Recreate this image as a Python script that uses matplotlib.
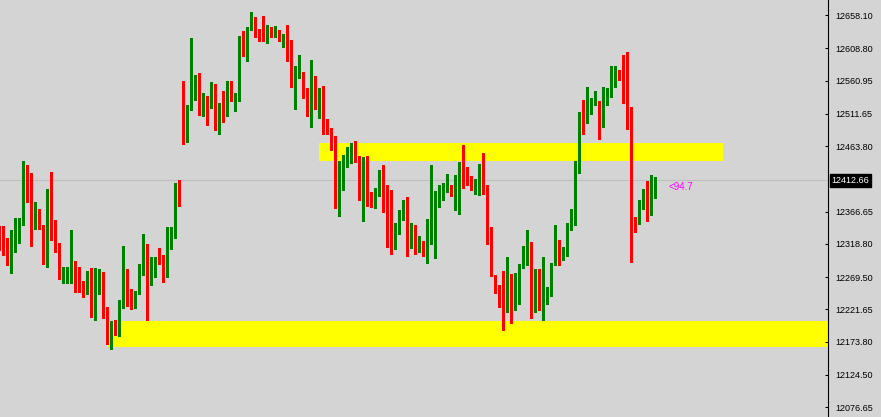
import numpy as np
import matplotlib
matplotlib.use("Agg")
import matplotlib.pyplot as plt
from matplotlib.patches import Rectangle

# OHLC свечи, слева направо (первая обрезана краем)
opens = [12339, 12323, 12320, 12298, 12308, 12328, 12357, 12430, 12400, 12340,
         12364, 12346, 12290, 12387, 12336, 12315, 12267, 12267, 12280, 12291,
         12282, 12259, 12249, 12277, 12218, 12260, 12268, 12218, 12181, 12197,
         12185, 12228, 12262, 12252, 12224, 12244, 12282, 12313, 12273, 12283,
         12299, 12295, 12274, 12333, 12336, 12407, 12522, 12473, 12517, 12548,
         12565, 12513, 12538, 12531, 12553, 12504, 12519, 12513, 12554, 12531,
         12537, 12618, 12604, 12637, 12651, 12630, 12630, 12623, 12631, 12628,
         12630, 12626, 12627, 12594, 12563, 12574, 12568, 12542, 12519, 12545,
         12518, 12544, 12498, 12488, 12473, 12381, 12415, 12443, 12450, 12465,
         12443, 12389, 12433, 12384, 12375, 12395, 12422, 12376, 12366, 12340,
         12335, 12368, 12371, 12320, 12337, 12319, 12316, 12314, 12347, 12362,
         12380, 12385, 12403, 12404, 12397, 12399, 12423, 12422, 12412, 12402,
         12409, 12421, 12406, 12340, 12273, 12250, 12235, 12218, 12255, 12221,
         12264, 12285, 12310, 12321, 12243, 12280, 12207, 12236, 12242, 12287,
         12322, 12299, 12302, 12343, 12362, 12439, 12510, 12504, 12522, 12525,
         12531, 12496, 12529, 12541, 12553, 12575, 12574, 12534, 12522, 12358,
         12351, 12384, 12397, 12382, 12390]
highs = [12345, 12345, 12327, 12339, 12357, 12357, 12441, 12436, 12424, 12381,
         12371, 12347, 12400, 12425, 12354, 12320, 12284, 12284, 12339, 12293,
         12285, 12263, 12278, 12283, 12283, 12281, 12277, 12225, 12204, 12206,
         12235, 12315, 12281, 12252, 12249, 12289, 12333, 12318, 12299, 12299,
         12313, 12302, 12344, 12344, 12409, 12413, 12560, 12525, 12624, 12569,
         12572, 12542, 12538, 12559, 12556, 12528, 12545, 12560, 12560, 12542,
         12627, 12634, 12640, 12663, 12655, 12637, 12657, 12643, 12640, 12642,
         12636, 12630, 12643, 12621, 12582, 12599, 12574, 12550, 12591, 12568,
         12550, 12553, 12504, 12491, 12479, 12442, 12450, 12462, 12468, 12471,
         12449, 12447, 12449, 12396, 12402, 12428, 12436, 12406, 12399, 12350,
         12369, 12384, 12388, 12350, 12346, 12331, 12323, 12356, 12436, 12397,
         12406, 12409, 12422, 12406, 12421, 12440, 12465, 12433, 12419, 12415,
         12437, 12453, 12406, 12343, 12273, 12258, 12278, 12299, 12274, 12276,
         12289, 12315, 12339, 12321, 12281, 12281, 12299, 12255, 12291, 12347,
         12324, 12314, 12350, 12370, 12442, 12514, 12532, 12551, 12535, 12545,
         12531, 12551, 12550, 12582, 12582, 12577, 12599, 12603, 12522, 12358,
         12384, 12400, 12412, 12421, 12418]
lows = [12310, 12302, 12287, 12276, 12307, 12320, 12347, 12381, 12316, 12340,
        12340, 12289, 12285, 12325, 12307, 12267, 12260, 12260, 12260, 12248,
        12247, 12240, 12244, 12210, 12205, 12245, 12208, 12170, 12163, 12183,
        12182, 12224, 12226, 12222, 12224, 12244, 12273, 12205, 12258, 12270,
        12289, 12262, 12270, 12311, 12327, 12375, 12467, 12470, 12517, 12532,
        12510, 12508, 12495, 12520, 12488, 12481, 12500, 12509, 12531, 12515,
        12531, 12598, 12590, 12636, 12626, 12619, 12620, 12616, 12626, 12626,
        12620, 12611, 12590, 12552, 12519, 12565, 12535, 12509, 12492, 12518,
        12506, 12482, 12482, 12458, 12372, 12360, 12399, 12433, 12439, 12440,
        12383, 12353, 12375, 12374, 12372, 12390, 12366, 12314, 12304, 12311,
        12334, 12354, 12301, 12313, 12303, 12307, 12300, 12290, 12319, 12297,
        12374, 12384, 12396, 12390, 12369, 12363, 12402, 12406, 12399, 12393,
        12391, 12393, 12319, 12271, 12246, 12225, 12191, 12218, 12202, 12220,
        12230, 12283, 12288, 12208, 12218, 12220, 12206, 12230, 12241, 12287,
        12287, 12294, 12300, 12339, 12347, 12424, 12481, 12498, 12511, 12524,
        12474, 12492, 12525, 12536, 12551, 12562, 12528, 12489, 12292, 12336,
        12348, 12370, 12353, 12361, 12387]
closes = [12321, 12318, 12300, 12312, 12327, 12357, 12430, 12399, 12339, 12366,
          12346, 12292, 12387, 12334, 12314, 12270, 12270, 12281, 12289, 12282,
          12258, 12247, 12277, 12218, 12261, 12268, 12218, 12183, 12198, 12183,
          12229, 12262, 12250, 12225, 12247, 12283, 12313, 12272, 12283, 12296,
          12295, 12274, 12333, 12340, 12408, 12400, 12473, 12520, 12550, 12565,
          12513, 12536, 12532, 12551, 12504, 12520, 12513, 12556, 12532, 12538,
          12618, 12604, 12638, 12657, 12630, 12628, 12623, 12631, 12628, 12637,
          12626, 12627, 12593, 12562, 12575, 12578, 12543, 12519, 12545, 12518,
          12547, 12498, 12488, 12472, 12381, 12416, 12445, 12452, 12467, 12443,
          12389, 12433, 12381, 12378, 12396, 12421, 12375, 12365, 12340, 12343,
          12369, 12372, 12320, 12337, 12319, 12326, 12313, 12349, 12361, 12381,
          12387, 12406, 12406, 12397, 12400, 12422, 12421, 12412, 12400, 12410,
          12421, 12403, 12340, 12274, 12249, 12232, 12218, 12256, 12221, 12264,
          12284, 12311, 12323, 12243, 12280, 12238, 12280, 12243, 12291, 12322,
          12299, 12308, 12344, 12362, 12439, 12511, 12504, 12523, 12526, 12529,
          12498, 12531, 12542, 12556, 12575, 12573, 12531, 12520, 12357, 12347,
          12384, 12397, 12382, 12391, 12412]

# жёлтые зоны: от свечи, до свечи, нижняя и верхняя цена
zone_start = [79.9, 27.0]
zone_end = [180.9, 260.0]
zone_low = [12441.5, 12165.7]
zone_high = [12468.2, 12204.2]

yticks = [12658.10, 12608.80, 12560.95, 12511.65, 12463.80, 12366.65,
          12318.80, 12269.50, 12221.65, 12173.80, 12124.50, 12076.65]
last_price = 12412.66
note = '<94.7'
note_x, note_y = 167.2, 12403.0

bg = '#D4D4D4'
fig = plt.figure(figsize=(8.81, 4.17), dpi=100, facecolor=bg)
ax = fig.add_axes([0, 0, 828 / 881, 1], facecolor=bg)

for x0, x1, lo, hi in zip(zone_start, zone_end, zone_low, zone_high):
    ax.add_patch(Rectangle((x0, lo), x1 - x0, hi - lo, color='#FFFF00', lw=0, zorder=1))

ax.axhline(last_price, color='#BEBEBE', lw=0.8, zorder=1.5)

o, h, l, c = (np.array(a, dtype=float) for a in (opens, highs, lows, closes))
x = np.arange(len(o))
cols = np.where(c >= o, '#008000', '#FF0000')
ax.vlines(x, l, h, colors=cols, lw=0.75, antialiased=False, zorder=2)
ax.bar(x, np.maximum(np.abs(c - o), 1.3), bottom=np.minimum(o, c),
       width=0.75, color=cols, lw=0, antialiased=False, zorder=3)

ax.text(note_x, note_y, note, color='#FF00FF', fontsize=7, family='Liberation Sans',
        va='center', ha='left')

ax.set_xlim(0.1675, 207.17)
ax.set_ylim(12061.86, 12680.35)
for s in ['left', 'top', 'bottom']:
    ax.spines[s].set_visible(False)
ax.spines['right'].set_color('black')
ax.set_xticks([])
ax.yaxis.tick_right()
ax.set_yticks(yticks)
ax.set_yticklabels(['%.2f' % t for t in yticks], family='Liberation Sans', fontsize=6.5)
ax.tick_params(axis='y', direction='in', length=2.5, width=0.75, pad=5)

# текущая цена в чёрной плашке
ax.text(1.004, last_price, '%.2f' % last_price, transform=ax.get_yaxis_transform(),
        color='white', fontsize=6.5, family='Liberation Sans', va='center', ha='left',
        clip_on=False, bbox=dict(facecolor='black', edgecolor='black', pad=1.2))

fig.savefig('out.png', dpi=100, facecolor=bg)
